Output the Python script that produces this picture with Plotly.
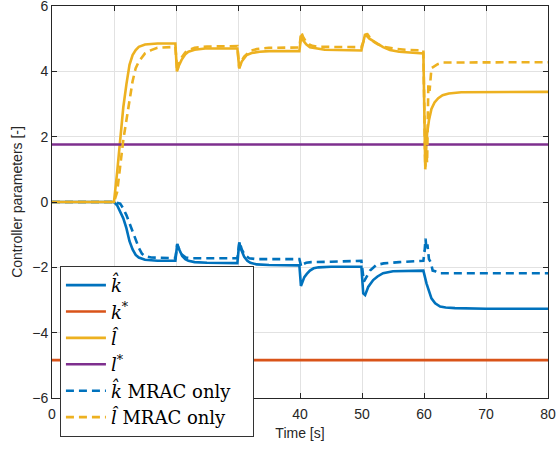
import plotly.graph_objects as go

# ---------------- data ----------------
k_star = -4.84
l_star = 1.76

t_khat = [0, 10, 10.5, 11, 11.5, 12, 12.5, 13, 13.5, 14, 15, 17, 19.9, 20.2, 20.5, 21, 21.5, 22, 23, 25,
          29.9, 30.2, 30.5, 31, 31.5, 32, 33, 35, 39.9, 40.15, 40.4, 40.7, 41.1, 41.6, 42.2, 43, 45,
          49.9, 50.2, 50.5, 51, 51.8, 52.5, 53.4, 55, 59.9, 60.4, 60.8, 61.2, 61.8, 62.6, 63.5, 65, 70, 80]
khat = [0, 0, -0.1, -0.3, -0.5, -0.8, -1.2, -1.45, -1.62, -1.7, -1.77, -1.8, -1.8, -1.28, -1.45, -1.65, -1.75, -1.8, -1.84, -1.86,
        -1.87, -1.24, -1.45, -1.68, -1.8, -1.86, -1.91, -1.93, -1.94, -2.57, -2.45, -2.3, -2.2, -2.1, -2.03, -2.0, -1.98,
        -1.98, -2.8, -2.85, -2.6, -2.39, -2.28, -2.18, -2.12, -2.1, -2.49, -2.75, -2.95, -3.1, -3.2, -3.23, -3.25, -3.27, -3.27]

t_lhat = [0, 10, 10.5, 11, 11.5, 12, 12.5, 13, 13.5, 14, 15, 17, 19.9, 20.15, 20.4, 20.9, 21.5, 22, 23, 24.7,
          29.9, 30.2, 30.6, 31.4, 32.2, 33.5, 35, 39.9, 40.2, 40.5, 41, 41.6, 42.7, 44, 49.9, 50.5, 51.2,
          52.4, 53.4, 54.5, 56, 59.9, 60.1, 60.2, 60.35, 60.5, 60.8, 61.2, 61.7, 62.3, 63, 64, 66, 80]
lhat = [0, 0, 0.9, 2.0, 2.9, 3.6, 4.2, 4.5, 4.65, 4.75, 4.82, 4.85, 4.85, 4.0, 4.15, 4.35, 4.52, 4.6, 4.66, 4.7,
        4.7, 4.09, 4.3, 4.5, 4.56, 4.6, 4.62, 4.62, 5.1, 4.95, 4.83, 4.74, 4.7, 4.66, 4.64, 5.14, 5.0,
        4.86, 4.74, 4.65, 4.6, 4.55, 2.5, 1.08, 1.6, 2.1, 2.5, 2.85, 3.05, 3.18, 3.27, 3.32, 3.36, 3.37]

t_khat_mrac = [0, 10, 11, 11.5, 12, 12.5, 13, 13.5, 14, 14.5, 15, 16, 17, 19.9, 20.2, 20.5, 21, 21.6, 22.5, 25,
               29.9, 30.25, 30.6, 31.1, 31.8, 33, 35, 39.9, 40.2, 40.5, 41, 41.8, 45, 49.9, 50.3, 50.7, 51.3,
               52.3, 53.5, 56, 59.9, 60.1, 60.25, 60.4, 60.55, 60.8, 61.1, 61.4, 61.8, 62.3, 80]
khat_mrac = [0, 0, -0.05, -0.2, -0.4, -0.65, -0.88, -1.15, -1.4, -1.58, -1.66, -1.7, -1.71, -1.72, -1.3, -1.45, -1.62, -1.7, -1.72, -1.72,
             -1.72, -1.21, -1.45, -1.62, -1.72, -1.75, -1.75, -1.75, -1.98, -1.9, -1.86, -1.84, -1.83, -1.8, -2.44, -2.3, -2.1,
             -1.93, -1.88, -1.84, -1.8, -1.5, -1.12, -1.45, -1.3, -1.75, -1.85, -2.1, -2.12, -2.18, -2.18]

t_lhat_mrac = [0, 10, 10.5, 11, 11.5, 12, 12.5, 13, 13.5, 14, 15, 16, 17, 19.9, 20.2, 20.5, 21, 21.5, 22, 23, 25,
               29.9, 30.2, 30.5, 31, 31.5, 32, 33, 35, 39.9, 40.2, 40.5, 41, 41.5, 42, 43, 49.9, 50.3, 50.8,
               51.2, 51.7, 52.5, 53.5, 55, 57, 59.9, 60.05, 60.2, 60.35, 60.5, 60.7, 60.9, 61.2, 61.6, 62.2, 63, 80]
lhat_mrac = [0, 0, 0.3, 1.1, 1.9, 2.5, 3.1, 3.7, 4.1, 4.3, 4.55, 4.65, 4.72, 4.75, 4.0, 4.25, 4.45, 4.58, 4.65, 4.72, 4.76,
             4.77, 4.1, 4.3, 4.45, 4.55, 4.63, 4.68, 4.72, 4.73, 5.2, 5.05, 4.9, 4.82, 4.78, 4.75, 4.74, 4.95, 5.16,
             5.05, 4.93, 4.83, 4.75, 4.7, 4.66, 4.64, 3.0, 1.0, 1.6, 1.2, 3.6, 3.4, 4.1, 4.15, 4.22, 4.27, 4.28]

t_span = [0, 80]

# ---------------- styles ----------------
BLUE = "#0072BD"
ORANGE = "#D95319"
YELLOW = "#EDB120"
PURPLE = "#7E2F8E"
LW = 2.6
DASH = "8px,5px"
AX = "#262626"
GRID = "#e2e2e2"
PAD = "\u00a0\u00a0\u00a0"

fig = go.Figure()
fig.add_trace(go.Scatter(x=t_khat, y=khat, mode="lines", name="<i>k̂</i>",
                         line=dict(color=BLUE, width=LW)))
fig.add_trace(go.Scatter(x=t_span, y=[k_star, k_star], mode="lines", name="<i>k</i><sup>*</sup>",
                         line=dict(color=ORANGE, width=LW)))
fig.add_trace(go.Scatter(x=t_lhat, y=lhat, mode="lines", name="<i>l̂</i>",
                         line=dict(color=YELLOW, width=LW)))
fig.add_trace(go.Scatter(x=t_span, y=[l_star, l_star], mode="lines", name="<i>l</i><sup>*</sup>",
                         line=dict(color=PURPLE, width=LW)))
fig.add_trace(go.Scatter(x=t_khat_mrac, y=khat_mrac, mode="lines", name="<i>k̂</i> MRAC only" + PAD,
                         line=dict(color=BLUE, width=LW, dash=DASH)))
fig.add_trace(go.Scatter(x=t_lhat_mrac, y=lhat_mrac, mode="lines", name="<i>l̂</i> MRAC only" + PAD,
                         line=dict(color=YELLOW, width=LW, dash=DASH)))

axis_common = dict(
    showline=True, linecolor=AX, linewidth=1, mirror="ticks",
    ticks="inside", ticklen=5, tickcolor=AX, tickwidth=1,
    showgrid=True, gridcolor=GRID, gridwidth=1, zeroline=False,
    automargin=False, ticklabeloverflow="allow",
    tickfont=dict(family="Liberation Sans, Arial", size=14, color=AX),
    title_font=dict(family="Liberation Sans, Arial", size=14, color=AX),
)

fig.update_layout(
    template="none",
    width=556, height=450,
    margin=dict(l=52, r=8, t=6, b=52, autoexpand=False),
    paper_bgcolor="white", plot_bgcolor="white",
    xaxis=dict(range=[0, 80], tickvals=[0, 10, 20, 30, 40, 50, 60, 70, 80],
               ticklabelstandoff=3,
               title=dict(text="Time [s]", standoff=7), **axis_common),
    yaxis=dict(range=[-6, 6], tickvals=[-6, -4, -2, 0, 2, 4, 6],
               title=dict(text="Controller parameters [-]", standoff=6), **axis_common),
    legend=dict(x=0.016, y=0.337, xanchor="left", yanchor="top",
                bgcolor="white", bordercolor="#333333", borderwidth=1,
                font=dict(family="DejaVu Serif, Liberation Serif, serif", size=18, color="black"),
                itemwidth=40, tracegroupgap=0),
    showlegend=True,
)

fig.write_html("out.html", config={"displayModeBar": False},
               post_script="document.body.style.margin='0';document.body.style.padding='0';")
